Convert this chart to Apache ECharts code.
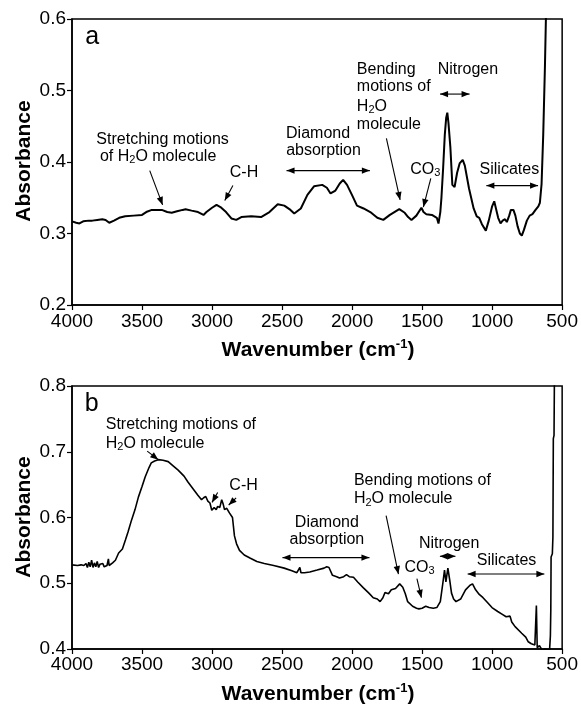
<!DOCTYPE html>
<html><head><meta charset="utf-8">
<script src="https://cdn.jsdelivr.net/npm/echarts@6/dist/echarts.min.js"></script>
<style>html,body{margin:0;padding:0;background:#fff}#c{width:581px;height:710px}</style>
</head><body><div id="c"></div>
<script>
// ---- data ----
const xTicks = [500, 1000, 1500, 2000, 2500, 3000, 3500, 4000];
const yTicksA = [0.2, 0.3, 0.4, 0.5, 0.6];
const yTicksB = [0.4, 0.5, 0.6, 0.7, 0.8];

const spectrumA = [
[4000,0.317],[3970,0.315],[3947,0.314],[3920,0.317],[3880,0.318],[3855,0.318],[3820,0.319],[3784,0.320],[3760,0.319],[3734,0.315],[3700,0.318],[3663,0.322],[3620,0.324],[3560,0.325],[3500,0.326],[3470,0.330],[3430,0.333],[3400,0.333],[3359,0.333],[3320,0.330],[3288,0.329],[3250,0.331],[3210,0.333],[3189,0.334],[3146,0.332],[3100,0.330],[3061,0.326],[3040,0.330],[3000,0.336],[2968,0.340],[2940,0.337],[2900,0.330],[2862,0.321],[2827,0.319],[2791,0.323],[2720,0.324],[2650,0.323],[2590,0.330],[2531,0.341],[2484,0.339],[2440,0.333],[2413,0.328],[2366,0.335],[2319,0.354],[2272,0.366],[2213,0.368],[2180,0.364],[2154,0.356],[2119,0.360],[2088,0.370],[2064,0.375],[2036,0.368],[2001,0.354],[1965,0.339],[1918,0.335],[1870,0.330],[1820,0.322],[1777,0.319],[1730,0.326],[1663,0.334],[1624,0.329],[1600,0.323],[1576,0.319],[1541,0.325],[1505,0.336],[1490,0.330],[1470,0.327],[1430,0.326],[1395,0.322],[1383,0.314],[1370,0.330],[1362,0.350],[1350,0.391],[1338,0.438],[1328,0.462],[1320,0.469],[1312,0.455],[1298,0.420],[1284,0.368],[1268,0.365],[1250,0.385],[1232,0.398],[1210,0.403],[1195,0.395],[1165,0.363],[1132,0.335],[1110,0.324],[1092,0.322],[1073,0.313],[1045,0.304],[1024,0.318],[1000,0.338],[985,0.345],[972,0.343],[957,0.322],[940,0.314],[925,0.318],[908,0.320],[895,0.316],[878,0.325],[866,0.333],[848,0.333],[834,0.325],[818,0.310],[802,0.300],[788,0.297],[773,0.305],[752,0.318],[732,0.325],[712,0.327],[690,0.333],[670,0.338],[659,0.343],[647,0.369],[635,0.439],[623,0.533],[616,0.600],[610,0.650]
];

const spectrumB = [
[4000,0.528],[3990,0.528],[3960,0.527],[3935,0.528],[3915,0.527],[3900,0.530],[3890,0.524],[3880,0.532],[3870,0.525],[3860,0.535],[3850,0.524],[3840,0.531],[3830,0.525],[3820,0.533],[3810,0.524],[3800,0.529],[3790,0.526],[3780,0.530],[3770,0.525],[3760,0.528],[3750,0.527],[3740,0.537],[3735,0.527],[3724,0.529],[3710,0.531],[3690,0.535],[3667,0.546],[3640,0.552],[3618,0.566],[3600,0.578],[3575,0.596],[3550,0.612],[3526,0.631],[3500,0.647],[3477,0.662],[3450,0.676],[3434,0.683],[3410,0.686],[3384,0.688],[3350,0.687],[3313,0.685],[3280,0.679],[3242,0.672],[3200,0.663],[3172,0.654],[3140,0.645],[3101,0.634],[3075,0.627],[3060,0.630],[3045,0.632],[3030,0.625],[3015,0.622],[3002,0.611],[2985,0.615],[2970,0.612],[2960,0.617],[2945,0.615],[2931,0.627],[2920,0.620],[2911,0.612],[2895,0.614],[2876,0.607],[2865,0.610],[2854,0.600],[2840,0.572],[2825,0.560],[2804,0.550],[2770,0.543],[2726,0.538],[2680,0.533],[2627,0.530],[2560,0.527],[2485,0.523],[2430,0.519],[2394,0.516],[2380,0.517],[2373,0.524],[2365,0.516],[2340,0.516],[2302,0.517],[2250,0.520],[2200,0.523],[2181,0.525],[2165,0.524],[2140,0.512],[2110,0.510],[2090,0.508],[2060,0.510],[2040,0.513],[2020,0.510],[1990,0.509],[1960,0.502],[1919,0.493],[1880,0.485],[1849,0.478],[1820,0.476],[1800,0.472],[1780,0.478],[1765,0.486],[1740,0.484],[1720,0.490],[1690,0.492],[1660,0.499],[1638,0.494],[1620,0.484],[1603,0.472],[1568,0.465],[1540,0.462],[1523,0.461],[1500,0.462],[1474,0.465],[1450,0.463],[1420,0.462],[1395,0.463],[1370,0.472],[1352,0.500],[1340,0.520],[1330,0.502],[1316,0.523],[1303,0.505],[1290,0.485],[1275,0.476],[1258,0.472],[1225,0.476],[1190,0.490],[1158,0.497],[1140,0.499],[1118,0.490],[1092,0.483],[1065,0.478],[1035,0.471],[1001,0.463],[960,0.457],[930,0.453],[900,0.449],[886,0.447],[872,0.450],[860,0.441],[836,0.434],[789,0.424],[760,0.418],[742,0.411],[720,0.408],[695,0.406],[684,0.466],[678,0.402],[662,0.405],[650,0.401],[640,0.397],[625,0.400],[605,0.399],[590,0.398],[584,0.420],[581,0.460],[579,0.540],[570,0.545],[566,0.570],[563,0.720],[558,0.725],[554,0.850]
];

// ---- annotations (data coordinates) ----
const textsA = [
  {t:'{t|Stretching motions}', at:[3353,0.432]},
  {t:'{t|of H}{s|2}{t|O molecule}', at:[3385,0.408]},
  {t:'{t|C-H}', at:[2772,0.385]},
  {t:'{t|Diamond}', at:[2243,0.440]},
  {t:'{t|absorption}', at:[2204,0.416]},
  {t:'{t|Bending}', at:[1966,0.529], align:'left'},
  {t:'{t|motions of}', at:[1966,0.505], align:'left'},
  {t:'{t|H}{s|2}{t|O}', at:[1966,0.478], align:'left'},
  {t:'{t|molecule}', at:[1966,0.453], align:'left'},
  {t:'{t|Nitrogen}', at:[1173,0.529]},
  {t:'{t|CO}{s|3}', at:[1477,0.389]},
  {t:'{t|Silicates}', at:[877,0.389]},
  {t:'{p|a}', at:[3855,0.575]}
];
const arrowsA = [
  {from:[3445,0.388], to:[3353,0.340]},
  {from:[2851,0.367], to:[2909,0.346]},
  {from:[1755,0.433], to:[1657,0.347]},
  {from:[1438,0.377], to:[1491,0.337]},
  {from:[2468,0.388], to:[1873,0.388], both:true},
  {from:[1372,0.495], to:[1161,0.495], both:true},
  {from:[1041,0.367], to:[672,0.367], both:true}
];
const textsB = [
  {t:'{p|b}', at:[3860,0.772]},
  {t:'{t|Stretching motions of}', at:[3759,0.741], align:'left'},
  {t:'{t|H}{s|2}{t|O molecule}', at:[3759,0.713], align:'left'},
  {t:'{t|C-H}', at:[2775,0.648]},
  {t:'{t|Diamond}', at:[2180,0.592]},
  {t:'{t|absorption}', at:[2180,0.567]},
  {t:'{t|Bending motions of}', at:[1987,0.656], align:'left'},
  {t:'{t|H}{s|2}{t|O molecule}', at:[1987,0.628], align:'left'},
  {t:'{t|Nitrogen}', at:[1307,0.561]},
  {t:'{t|CO}{s|3}', at:[1519,0.524]},
  {t:'{t|Silicates}', at:[897,0.534]}
];
const arrowsB = [
  {from:[3463,0.701], to:[3384,0.688]},
  {from:[2960,0.638], to:[3000,0.623]},
  {from:[2828,0.630], to:[2881,0.619]},
  {from:[1757,0.603], to:[1669,0.514]},
  {from:[1537,0.507], to:[1505,0.478]},
  {from:[2497,0.539], to:[1876,0.539], both:true},
  {from:[1373,0.541], to:[1262,0.541], both:true},
  {from:[1175,0.514], to:[627,0.514], both:true}
];

const FONT = 'Liberation Sans, Arial, Helvetica, sans-serif';
const chart = echarts.init(document.getElementById('c'));

function xAxisCfg(g, margin){
  return {gridIndex:g, type:'value', inverse:true, min:xTicks[0], max:xTicks[xTicks.length-1], interval:500,
    axisLine:{show:true,onZero:false,lineStyle:{color:'#000',width:1.5}},
    axisTick:{show:true,inside:false,length:5,lineStyle:{color:'#000',width:1.2}},
    axisLabel:{fontSize:19,color:'#000',fontFamily:FONT,margin:margin,showMinLabel:true,showMaxLabel:true,
      formatter:v=>String(Math.round(v))},
    splitLine:{show:false}};
}
function yAxisCfg(g, ticks){
  return {gridIndex:g, type:'value', min:ticks[0], max:ticks[ticks.length-1], interval:0.1,
    axisLine:{show:true,onZero:false,lineStyle:{color:'#000',width:1.5}},
    axisTick:{show:true,inside:false,length:5,lineStyle:{color:'#000',width:1.2}},
    axisLabel:{fontSize:19,color:'#000',fontFamily:FONT,margin:6,formatter:v=>v.toFixed(1)},
    splitLine:{show:false}};
}

chart.setOption({
  animation:false,
  backgroundColor:'#fff',
  grid:[
    {left:72,right:17,top:19,height:286,show:true,borderColor:'#000',borderWidth:1.5},
    {left:72,right:17,top:386,height:263,show:true,borderColor:'#000',borderWidth:1.5}
  ],
  xAxis:[xAxisCfg(0,7),xAxisCfg(1,6)],
  yAxis:[yAxisCfg(0,yTicksA),yAxisCfg(1,yTicksB)],
  series:[
    {type:'line',xAxisIndex:0,yAxisIndex:0,data:spectrumA,showSymbol:false,symbol:'none',clip:true,
     lineStyle:{color:'#000',width:2},z:3},
    {type:'line',xAxisIndex:1,yAxisIndex:1,data:spectrumB,showSymbol:false,symbol:'none',clip:true,
     lineStyle:{color:'#000',width:1.6},z:3}
  ]
});

const RICH = {
  t:{fontSize:16,fontFamily:FONT,color:'#111',lineHeight:18},
  s:{fontSize:11,fontFamily:FONT,color:'#111',lineHeight:6,verticalAlign:'bottom'},
  p:{fontSize:25,fontFamily:FONT,color:'#000',lineHeight:26},
  b:{fontSize:21,fontFamily:FONT,fontWeight:'bold',color:'#000',lineHeight:24},
  sup:{fontSize:13,fontFamily:FONT,fontWeight:'bold',color:'#000',lineHeight:10,verticalAlign:'top'}
};

function textEl(x,y,text,align,rot){
  return {type:'text',x:x,y:y,rotation:rot||0,silent:true,z:10,
    style:{text:text,rich:RICH,fill:'#000',align:align||'center',verticalAlign:'middle'}};
}
function arrowHead(tip, tail, els){
  const dx=tip[0]-tail[0], dy=tip[1]-tail[1], L=Math.hypot(dx,dy)||1;
  const ux=dx/L, uy=dy/L, len=8, hw=3.2;
  const bx=tip[0]-ux*len, by=tip[1]-uy*len;
  els.push({type:'polygon',silent:true,z:10,shape:{points:[[tip[0],tip[1]],[bx-uy*hw,by+ux*hw],[bx+uy*hw,by-ux*hw]]},style:{fill:'#000'}});
}
function arrowEls(g, a, els){
  const p1=chart.convertToPixel({gridIndex:g},a.from);
  const p2=chart.convertToPixel({gridIndex:g},a.to);
  els.push({type:'line',silent:true,z:10,shape:{x1:p1[0],y1:p1[1],x2:p2[0],y2:p2[1]},style:{stroke:'#000',lineWidth:1.1}});
  arrowHead(p2,p1,els);
  if(a.both) arrowHead(p1,p2,els);
}

const els=[];
[[0,textsA],[1,textsB]].forEach(([g,list])=>{
  list.forEach(o=>{const p=chart.convertToPixel({gridIndex:g},o.at); els.push(textEl(p[0],p[1],o.t,o.align));});
});
arrowsA.forEach(a=>arrowEls(0,a,els));
arrowsB.forEach(a=>arrowEls(1,a,els));

// axis titles
els.push(textEl(24,161,'{b|Absorbance}','center',Math.PI/2));
els.push(textEl(24,517,'{b|Absorbance}','center',Math.PI/2));
els.push(textEl(318,350,'{b|Wavenumber (cm}{sup|-1}{b|)}','center'));
els.push(textEl(318,694,'{b|Wavenumber (cm}{sup|-1}{b|)}','center'));

chart.setOption({graphic:els});
</script>
</body></html>
